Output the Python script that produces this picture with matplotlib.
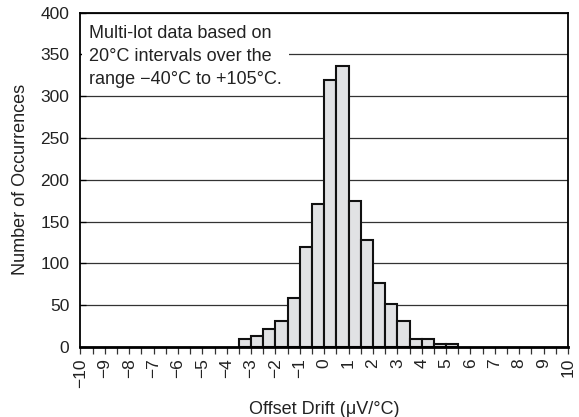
import matplotlib.pyplot as plt
import numpy as np

plt.rcParams['font.family'] = ['Liberation Sans', 'DejaVu Sans']

# histogram bins (left edges, width 0.5 uV/C) and counts
bin_starts = [-3.5, -3.0, -2.5, -2.0, -1.5, -1.0, -0.5, 0.0, 0.5,
              1.0, 1.5, 2.0, 2.5, 3.0, 3.5, 4.0, 4.5, 5.0]
counts = [9, 13, 22, 31, 59, 119, 171, 319, 336,
          175, 128, 77, 51, 31, 10, 10, 4, 3]
bin_width = 0.5

x_ticks = list(range(-10, 11))
x_ticklabels = [str(v).replace('-', '\u2212') for v in x_ticks]
y_ticks = [0, 50, 100, 150, 200, 250, 300, 350, 400]

note = ("Multi-lot data based on\n"
        "20\u00b0C intervals over the\n"
        "range \u221240\u00b0C to +105\u00b0C.")

text_color = '#222222'

fig = plt.figure(figsize=(5.79, 4.17), dpi=100)
ax = fig.add_axes([0.139, 0.168, 0.842, 0.802])

ax.bar(bin_starts, counts, width=bin_width, align='edge',
       color='#e1e2e4', edgecolor='#111111', linewidth=1.5, zorder=2)

ax.set_xlim(-10, 10)
ax.set_ylim(0, 400)
ax.set_axisbelow(True)

ax.set_xticks(x_ticks)
ax.set_xticklabels(x_ticklabels, rotation=90, fontsize=12.5, color=text_color)
ax.set_xticks(np.arange(-10, 10.5, 0.5), minor=True)
ax.tick_params(axis='x', which='both', direction='out', length=5, width=0.9,
               color='#333333', pad=3)

ax.set_yticks(y_ticks)
ax.tick_params(axis='y', direction='in', length=4, width=0.9, pad=8,
               labelsize=12.5, labelcolor=text_color)

ax.grid(axis='y', color='#333333', linewidth=0.9)
ax.grid(axis='x', visible=False)

for side in ['left', 'right', 'top']:
    ax.spines[side].set_linewidth(1.3)
ax.spines['bottom'].set_linewidth(2.0)

ax.set_xlabel('Offset Drift (\u03bcV/\u00b0C)', fontsize=13, color=text_color,
              labelpad=10)
ax.set_ylabel('Number of Occurrences', fontsize=13, color=text_color,
              labelpad=8)

ax.text(0.018, 0.962, note, transform=ax.transAxes, fontsize=13,
        color=text_color, va='top', ha='left', linespacing=1.45, zorder=3,
        bbox=dict(facecolor='white', edgecolor='none', pad=5))

fig.savefig('out.png', dpi=100)
